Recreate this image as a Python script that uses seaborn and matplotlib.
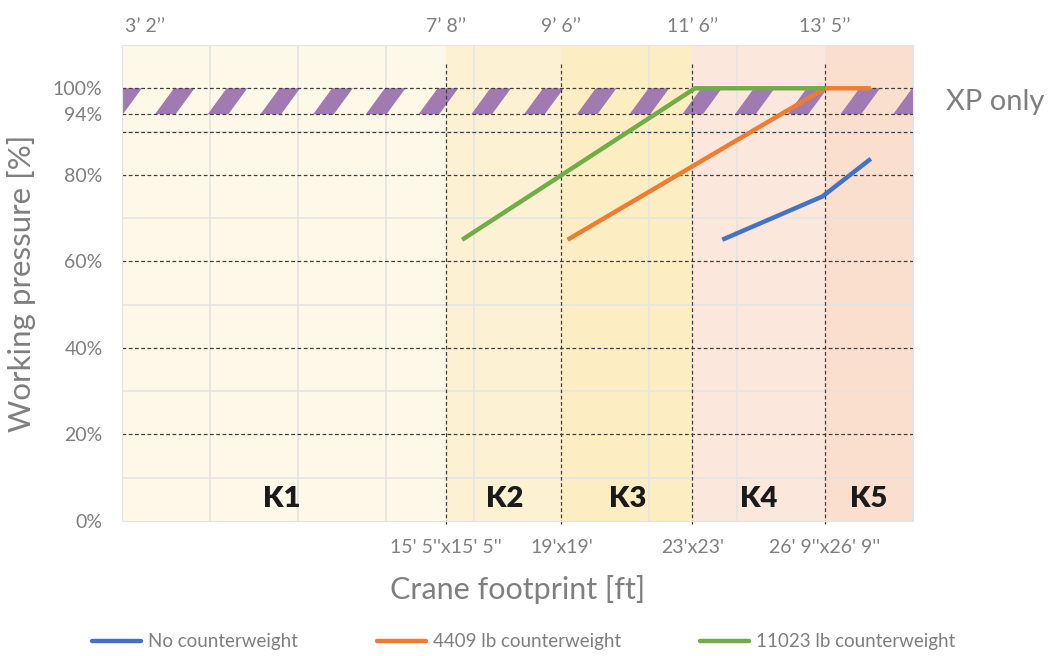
import numpy as np
import pandas as pd
import matplotlib
matplotlib.use('Agg')
import matplotlib.pyplot as plt
import seaborn as sns

# zone boundaries (x units of the chart) and labels
zone_edges = [0, 3.69, 5.0, 6.49, 8.0, 9.0]
zone_names = ['K1', 'K2', 'K3', 'K4', 'K5']
zone_colors = ['#FEF8E8', '#FDF1D4', '#FDEDC2', '#FBE7DB', '#FADECE']
zone_label_x = [1.82, 4.35, 5.75, 7.24, 8.5]

top_labels = ["3\u2019 2\u2019\u2019", "7\u2019 8\u2019\u2019", "9\u2019 6\u2019\u2019", "11\u2019 6\u2019\u2019", "13\u2019 5\u2019\u2019"]
top_label_x = [0.26, 3.69, 5.0, 6.49, 8.0]
bottom_ticks = [3.69, 5.0, 6.49, 8.0]
bottom_labels = ["15' 5''x15' 5''", "19'x19'", "23'x23'", "26' 9''x26' 9''"]

y_ticks = [0, 20, 40, 60, 80, 94, 100]
dashed_levels = [20, 40, 60, 80, 90, 94, 100]

# series
no_cw_x = [6.83, 7.97, 8.52]
no_cw_y = [65, 75, 83.7]
cw4409_x = [5.07, 8.0, 8.52]
cw4409_y = [65, 100, 100]
cw11023_x = [3.87, 6.52, 8.0]
cw11023_y = [65, 100, 100]

df = pd.concat([
    pd.DataFrame({'x': no_cw_x, 'y': no_cw_y, 'series': 'No counterweight'}),
    pd.DataFrame({'x': cw4409_x, 'y': cw4409_y, 'series': '4409 lb counterweight'}),
    pd.DataFrame({'x': cw11023_x, 'y': cw11023_y, 'series': '11023 lb counterweight'}),
])
palette = {'No counterweight': '#4472C4', '4409 lb counterweight': '#ED7D31',
           '11023 lb counterweight': '#70AD47'}

sns.set_style('white')
plt.rcParams['font.family'] = ['Lato', 'DejaVu Sans']
gray = '#7F7F7F'

fig = plt.figure(figsize=(10.6, 6.56), dpi=100)
ax = fig.add_axes([0.1151, 0.2058, 0.7462, 0.7256])
ax.set_xlim(0, 9)
ax.set_ylim(0, 110)

# zone backgrounds
for i in range(5):
    ax.axvspan(zone_edges[i], zone_edges[i + 1], color=zone_colors[i], lw=0, zorder=0)

# light grid
ax.set_xticks(np.arange(0, 10), minor=True)
ax.set_yticks(np.arange(0, 111, 10), minor=True)
ax.grid(which='minor', color='#E4E4E4', lw=1.2, zorder=0.5)
ax.tick_params(which='both', length=0)

# hatched XP band 94-100 %
period, width, slant = 0.6, 0.235, 0.216
for k in range(-1, 16):
    x0 = 0.375 + period * k
    ax.fill([x0, x0 + width, x0 + width + slant, x0 + slant], [94, 94, 100, 100],
            color='#A07AB0', lw=0, zorder=1, clip_on=True)
ax.text(9.38, 96.8, 'XP only', fontsize=21, color=gray, va='center', ha='left')

# dashed reference lines
for lv in dashed_levels:
    ax.axhline(lv, color='#404040', lw=0.9, ls=(0, (3, 2)), zorder=2)
for xb in bottom_ticks:
    ax.plot([xb, xb], [-0.6, 105.5], color='#404040', lw=0.9, ls=(0, (3, 2)),
            zorder=2, clip_on=False)

sns.lineplot(data=df, x='x', y='y', hue='series', palette=palette, lw=3.2,
             ax=ax, zorder=3, legend=True, solid_capstyle='butt')

for name, xl in zip(zone_names, zone_label_x):
    ax.text(xl, 5, name, fontsize=21, fontweight='heavy', color='#1A1A1A',
            ha='center', va='center', zorder=4)

for lab, xl in zip(top_labels, top_label_x):
    ax.text(xl, 114.3, lab, fontsize=14, color=gray, ha='center', va='center')

ax.set_yticks(y_ticks)
ax.set_yticklabels([f'{v}%' for v in y_ticks], fontsize=14, color=gray)
ax.set_xticks(bottom_ticks)
ax.set_xticklabels(bottom_labels, fontsize=14, color=gray)
ax.tick_params(axis='x', pad=13)
ax.tick_params(axis='y', pad=14)

ax.set_xlabel('Crane footprint [ft]', fontsize=22, color=gray, labelpad=14)
ax.set_ylabel('Working pressure [%]', fontsize=22.5, color=gray, labelpad=12)

for s in ax.spines.values():
    s.set_color('#E4E4E4')

handles, labels = ax.get_legend_handles_labels()
for h in handles:
    h.set_solid_capstyle('round')
ax.legend(handles, labels, loc='center', bbox_to_anchor=(0.494, 0.022),
          bbox_transform=fig.transFigure, ncol=3, frameon=False, fontsize=13.5,
          labelcolor=gray, columnspacing=4.2, handlelength=2.6, handletextpad=0.4)

fig.savefig('out.png', dpi=100)
